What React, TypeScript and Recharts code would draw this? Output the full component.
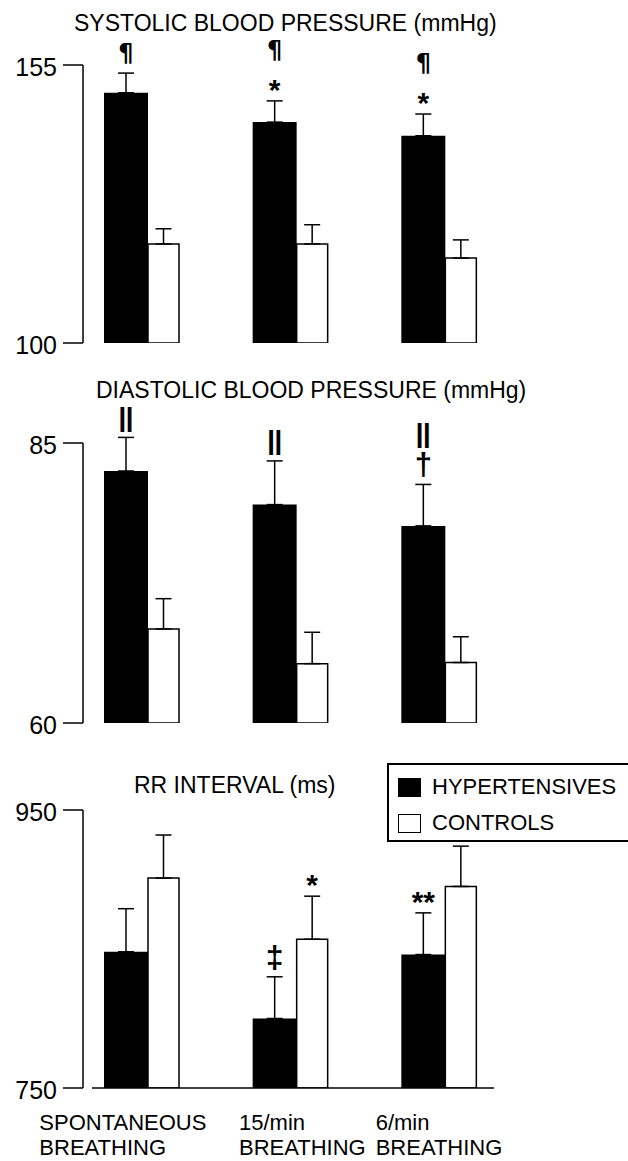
import React from 'react';
import { BarChart, Bar, XAxis, YAxis, ErrorBar, LabelList, Legend } from 'recharts';

const FONT = "'Liberation Sans', Arial, sans-serif";
const MARK_FONT = "'DejaVu Sans', sans-serif";

// categories / tick labels
const conditions = ['SPONTANEOUS BREATHING', '15/min BREATHING', '6/min BREATHING'];
const tickLine1 = ['SPONTANEOUS', '15/min', '6/min'];
const tickLine2 = ['BREATHING', 'BREATHING', 'BREATHING'];

// systolic (mmHg)
const sbpHyp = [149.5, 143.7, 141.0];
const sbpHypSe = [3.9, 4.2, 4.3];
const sbpCtl = [119.6, 119.6, 116.8];
const sbpCtlSe = [3.0, 3.8, 3.6];
const sbpHypMarks = ['¶', '¶\n*', '¶\n*'];
const sbpCtlMarks = ['', '', ''];

// diastolic (mmHg)
const dbpHyp = [82.5, 79.5, 77.6];
const dbpHypSe = [3.0, 3.9, 3.7];
const dbpCtl = [68.4, 65.3, 65.4];
const dbpCtlSe = [2.7, 2.8, 2.3];
const dbpHypMarks = ['‖', '‖', '‖\n†'];
const dbpCtlMarks = ['', '', ''];

// RR interval (ms)
const rrHyp = [848, 800, 846];
const rrHypSe = [31, 30, 30];
const rrCtl = [901, 857, 895];
const rrCtlSe = [31, 31, 29];
const rrHypMarks = ['', '‡', '**'];
const rrCtlMarks = ['', '*', ''];

const buildRows = (hyp: number[], hypSe: number[], ctl: number[], ctlSe: number[], hm: string[], cm: string[]) =>
  conditions.map((c, i) => ({
    cond: c,
    hyp: hyp[i],
    hypErr: [0, hypSe[i]],
    ctl: ctl[i],
    ctlErr: [0, ctlSe[i]],
    hypMarks: hm[i],
    ctlMarks: cm[i],
  }));

// glyph font/size + how far its visual centre sits above the baseline (em)
const GLYPH: Record<string, { size: number; k: number; font: string; weight?: string; sx?: number }> = {
  '*': { size: 30, k: 0.57, font: FONT, weight: 'bold' },
  '**': { size: 30, k: 0.57, font: FONT, weight: 'bold' },
  '¶': { size: 24, k: 0.26, font: MARK_FONT, weight: 'bold' },
  '‖': { size: 25, k: 0.26, font: MARK_FONT, sx: 1.8 },
  '†': { size: 31, k: 0.28, font: FONT, weight: 'bold' },
  '‡': { size: 32, k: 0.28, font: FONT, weight: 'bold' },
};

const makeMarks = (values: number[], ses: number[], base: number) => (props: any) => {
  const text = props.value as string;
  if (!text) return null;
  const vb = props.viewBox || props;
  const { x, y, width, height } = vb;
  const i = props.index;
  const px = height / (values[i] - base);
  const capY = y - ses[i] * px;
  const lines = text.split('\n').reverse();
  return (
    <g>
      {lines.map((s, k) => {
        const g = GLYPH[s] || { size: 26, k: 0.3, font: FONT };
        const cy = capY - 18 - 31 * k;
        return (
          <text
            key={k}
            transform={`translate(${x + width / 2} ${cy + g.k * g.size}) scale(${g.sx || 1} 1)`}
            textAnchor="middle"
            fontSize={g.size}
            fontFamily={g.font}
            fontWeight={g.weight || 'normal'}
            fill="#000"
          >
            {s}
          </text>
        );
      })}
    </g>
  );
};

const TICK_DX = [-102, -51, -63];

const CondTick = (props: any) => {
  const { x, y, index } = props;
  return (
    <g>
      <text x={x + TICK_DX[index]} y={y + 42} fontSize={22} fontFamily={FONT} fill="#000">{tickLine1[index]}</text>
      <text x={x + TICK_DX[index]} y={y + 67} fontSize={22} fontFamily={FONT} fill="#000">{tickLine2[index]}</text>
    </g>
  );
};

const SERIES_ORDER = ['hyp', 'ctl'];

const LegendBox = (props: any) => {
  const payload = [...(props.payload || [])].sort(
    (a: any, b: any) => SERIES_ORDER.indexOf(a.dataKey) - SERIES_ORDER.indexOf(b.dataKey)
  );
  return (
    <div style={{ border: '2px solid #000', boxSizing: 'border-box', width: 260, height: 79, padding: '4px 0 0 9px', background: '#fff', fontFamily: FONT }}>
      {payload.map((e: any) => (
        <div key={e.value} style={{ display: 'flex', alignItems: 'center', height: 36 }}>
          <span style={{ display: 'inline-block', width: 23, height: 19, boxSizing: 'border-box', border: '1.5px solid #000', background: (e.payload && e.payload.fill) || e.color, marginRight: 11 }} />
          <span style={{ fontSize: 22, color: '#000' }}>{e.value}</span>
        </div>
      ))}
    </div>
  );
};

const axisStroke = { stroke: '#000', strokeWidth: 1.5 };

interface PanelProps {
  top: number;
  height: number;
  marginTop: number;
  xHeight: number;
  marginBottom: number;
  domain: [number, number];
  rows: any[];
  hyp: number[];
  hypSe: number[];
  ctl: number[];
  ctlSe: number[];
  showTicks?: boolean;
  showLegend?: boolean;
}

function Panel(p: PanelProps) {
  return (
    <div style={{ position: 'absolute', left: 0, top: p.top }}>
      <BarChart
        width={628}
        height={p.height}
        data={p.rows}
        margin={{ top: p.marginTop, right: 134, bottom: p.marginBottom, left: 0 }}
        barGap={0}
      >
        <YAxis yAxisId="gap" width={9} axisLine={false} tickLine={false} tick={false} />
        <YAxis
          yAxisId="v"
          width={83}
          domain={p.domain}
          ticks={p.domain}
          interval={0}
          allowDataOverflow
          tickSize={20}
          tickMargin={6}
          axisLine={axisStroke}
          tickLine={axisStroke}
          tick={{ fill: '#000', fontSize: 25, fontFamily: FONT, dy: 2 }}
        />
        <XAxis
          dataKey="cond"
          height={p.xHeight}
          padding={{ left: -25, right: -19 }}
          axisLine={axisStroke}
          tickLine={false}
          tickSize={0}
          tickMargin={0}
          interval={0}
          tick={p.showTicks ? <CondTick /> : false}
        />
        {p.showLegend && (
          <Legend
            layout="vertical"
            verticalAlign="middle"
            align="center"
            content={<LegendBox />}
            wrapperStyle={{ left: 387, top: 23, width: 260, height: 79 }}
          />
        )}
        <Bar yAxisId="v" dataKey="hyp" name="HYPERTENSIVES" fill="#000" barSize={44} isAnimationActive={false}>
          <ErrorBar dataKey="hypErr" direction="y" width={8} stroke="#000" strokeWidth={1.5} isAnimationActive={false} />
          <LabelList dataKey="hypMarks" content={makeMarks(p.hyp, p.hypSe, p.domain[0])} />
        </Bar>
        <Bar yAxisId="v" dataKey="ctl" name="CONTROLS" fill="#fff" stroke="#000" strokeWidth={1.5} barSize={31} isAnimationActive={false}>
          <ErrorBar dataKey="ctlErr" direction="y" width={8} stroke="#000" strokeWidth={1.5} isAnimationActive={false} />
          <LabelList dataKey="ctlMarks" content={makeMarks(p.ctl, p.ctlSe, p.domain[0])} />
        </Bar>
      </BarChart>
    </div>
  );
}

const titleStyle: React.CSSProperties = {
  position: 'absolute',
  fontSize: 23,
  lineHeight: '23px',
  whiteSpace: 'nowrap',
  color: '#000',
};

export default function App() {
  return (
    <div style={{ position: 'absolute', left: 0, top: 0, width: 628, height: 1161, overflow: 'hidden', background: '#fff', fontFamily: FONT }}>
      <Panel
        top={0} height={360} marginTop={65} xHeight={0} marginBottom={17}
        domain={[100, 155]}
        rows={buildRows(sbpHyp, sbpHypSe, sbpCtl, sbpCtlSe, sbpHypMarks, sbpCtlMarks)}
        hyp={sbpHyp} hypSe={sbpHypSe} ctl={sbpCtl} ctlSe={sbpCtlSe}
      />
      <Panel
        top={360} height={380} marginTop={83} xHeight={0} marginBottom={17}
        domain={[60, 85]}
        rows={buildRows(dbpHyp, dbpHypSe, dbpCtl, dbpCtlSe, dbpHypMarks, dbpCtlMarks)}
        hyp={dbpHyp} hypSe={dbpHypSe} ctl={dbpCtl} ctlSe={dbpCtlSe}
      />
      <Panel
        top={740} height={421} marginTop={70} xHeight={73} marginBottom={0}
        domain={[750, 950]}
        rows={buildRows(rrHyp, rrHypSe, rrCtl, rrCtlSe, rrHypMarks, rrCtlMarks)}
        hyp={rrHyp} hypSe={rrHypSe} ctl={rrCtl} ctlSe={rrCtlSe}
        showTicks showLegend
      />
      <div style={{ ...titleStyle, left: 74, top: 12 }}>SYSTOLIC BLOOD PRESSURE (mmHg)</div>
      <div style={{ ...titleStyle, left: 96, top: 379 }}>DIASTOLIC BLOOD PRESSURE (mmHg)</div>
      <div style={{ ...titleStyle, left: 134, top: 774 }}>RR INTERVAL (ms)</div>
    </div>
  );
}
